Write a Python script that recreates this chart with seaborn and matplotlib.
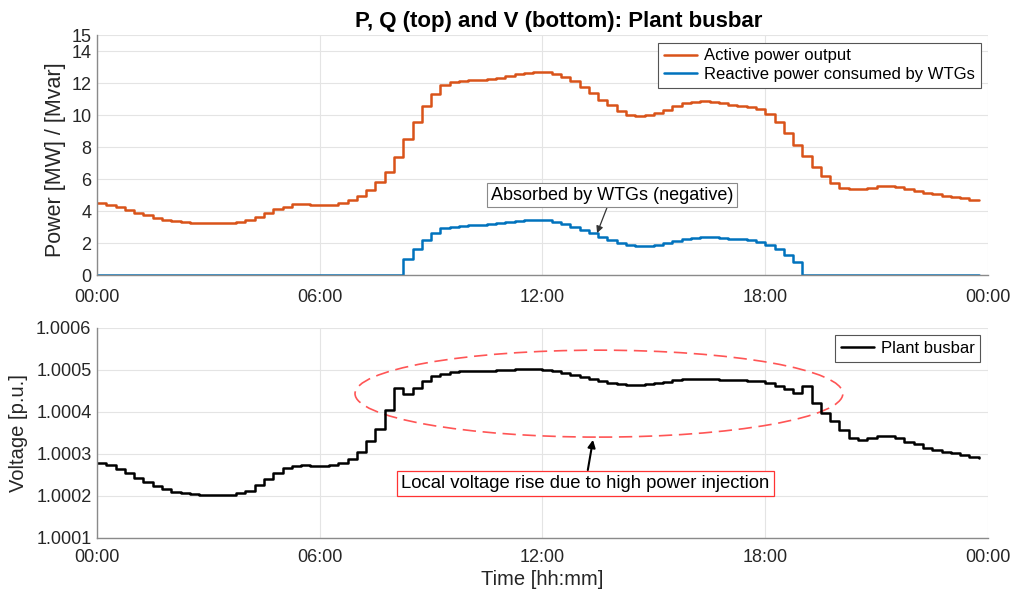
import numpy as np
import pandas as pd
import matplotlib
matplotlib.use("Agg")
import matplotlib.pyplot as plt
from matplotlib.patches import Ellipse
from matplotlib.ticker import FixedLocator, FixedFormatter, FuncFormatter
import seaborn as sns

# ---------------- data (15-min samples, 00:00 .. 23:45) ----------------
time_h = np.arange(96) * 0.25

active_power_MW = [
    4.52, 4.38, 4.23, 4.06, 3.90, 3.73, 3.58, 3.46,
    3.38, 3.32, 3.28, 3.26, 3.25, 3.25, 3.26, 3.30,
    3.44, 3.65, 3.90, 4.13, 4.27, 4.42, 4.44, 4.40,
    4.35, 4.40, 4.52, 4.67, 4.94, 5.29, 5.83, 6.46,
    7.40, 8.48, 9.58, 10.56, 11.31, 11.88, 12.08, 12.13,
    12.17, 12.21, 12.25, 12.33, 12.44, 12.54, 12.65, 12.71,
    12.69, 12.56, 12.40, 12.13, 11.77, 11.35, 10.94, 10.60,
    10.27, 10.02, 9.94, 9.98, 10.13, 10.33, 10.54, 10.73,
    10.83, 10.87, 10.83, 10.73, 10.65, 10.58, 10.50, 10.37,
    10.06, 9.58, 8.90, 8.15, 7.44, 6.77, 6.19, 5.73,
    5.46, 5.35, 5.37, 5.46, 5.56, 5.58, 5.48, 5.35,
    5.25, 5.15, 5.04, 4.96, 4.87, 4.79, 4.71, 4.69,
]

reactive_power_Mvar = [
    0, 0, 0, 0, 0, 0, 0, 0,
    0, 0, 0, 0, 0, 0, 0, 0,
    0, 0, 0, 0, 0, 0, 0, 0,
    0, 0, 0, 0, 0, 0, 0, 0,
    0, 0.98, 1.60, 2.19, 2.65, 2.92, 3.02, 3.06,
    3.10, 3.15, 3.21, 3.27, 3.33, 3.40, 3.44, 3.46,
    3.42, 3.31, 3.19, 3.02, 2.81, 2.60, 2.40, 2.19,
    2.00, 1.85, 1.79, 1.81, 1.90, 2.00, 2.12, 2.24,
    2.33, 2.37, 2.35, 2.29, 2.25, 2.23, 2.17, 2.08,
    1.90, 1.63, 1.25, 0.79, 0, 0, 0, 0,
    0, 0, 0, 0, 0, 0, 0, 0,
    0, 0, 0, 0, 0, 0, 0, 0,
]

voltage_pu = [
    1.000279, 1.000273, 1.000263, 1.000253, 1.000242, 1.000232, 1.000222, 1.000215,
    1.000210, 1.000206, 1.000204, 1.000202, 1.000202, 1.000201, 1.000201, 1.000206,
    1.000212, 1.000225, 1.000239, 1.000254, 1.000265, 1.000271, 1.000273, 1.000271,
    1.000271, 1.000273, 1.000277, 1.000287, 1.000305, 1.000331, 1.000360, 1.000404,
    1.000457, 1.000443, 1.000457, 1.000473, 1.000484, 1.000490, 1.000494, 1.000496,
    1.000497, 1.000498, 1.000498, 1.000499, 1.000500, 1.000501, 1.000501, 1.000501,
    1.000500, 1.000497, 1.000493, 1.000488, 1.000483, 1.000479, 1.000474, 1.000469,
    1.000465, 1.000463, 1.000463, 1.000466, 1.000469, 1.000471, 1.000475, 1.000478,
    1.000479, 1.000479, 1.000477, 1.000475, 1.000475, 1.000475, 1.000474, 1.000473,
    1.000469, 1.000461, 1.000454, 1.000445, 1.000461, 1.000420, 1.000397, 1.000377,
    1.000357, 1.000337, 1.000333, 1.000337, 1.000343, 1.000343, 1.000337, 1.000329,
    1.000322, 1.000314, 1.000309, 1.000305, 1.000301, 1.000297, 1.000293, 1.000290,
]

xtick_hours = [0, 6, 12, 18, 24]
xtick_labels = ["00:00", "06:00", "12:00", "18:00", "00:00"]
power_yticks = [0, 2, 4, 6, 8, 10, 12, 14, 15]
voltage_yticks = [1.0001, 1.0002, 1.0003, 1.0004, 1.0005, 1.0006]

df = pd.DataFrame({"t": time_h, "P": active_power_MW,
                   "Q": reactive_power_Mvar, "V": voltage_pu})

# ---------------- style ----------------
sns.set_theme(style="whitegrid")
plt.rcParams["font.family"] = ["Liberation Sans", "DejaVu Sans"]
TXT = "#262626"
ORANGE = "#D95319"
BLUE = "#0072BD"

fig = plt.figure(figsize=(10.12, 5.90), dpi=100)
ax1 = fig.add_axes([97 / 1012, 1 - 275 / 590, 891 / 1012, 240 / 590])
ax2 = fig.add_axes([97 / 1012, 1 - 537.7 / 590, 891 / 1012, 210 / 590])

sns.lineplot(data=df, x="t", y="P", ax=ax1, drawstyle="steps-post",
             color=ORANGE, linewidth=1.8, label="Active power output")
sns.lineplot(data=df, x="t", y="Q", ax=ax1, drawstyle="steps-post",
             color=BLUE, linewidth=1.8, label="Reactive power consumed by WTGs")
sns.lineplot(data=df, x="t", y="V", ax=ax2, drawstyle="steps-post",
             color="black", linewidth=1.8, label="Plant busbar")


def style_axes(ax):
    ax.set_facecolor("white")
    ax.set_xlim(0, 24)
    ax.xaxis.set_major_locator(FixedLocator(xtick_hours))
    ax.xaxis.set_major_formatter(FixedFormatter(xtick_labels))
    ax.grid(True, color="#e4e4e4", linewidth=0.8)
    for s in ["top", "right"]:
        ax.spines[s].set_visible(False)
    for s in ["left", "bottom"]:
        ax.spines[s].set_visible(True)
        ax.spines[s].set_color("#8a8a8a")
        ax.spines[s].set_linewidth(1.0)
    ax.tick_params(axis="both", direction="in", length=6, width=0.8,
                   color="#8a8a8a", labelsize=13, labelcolor=TXT)
    ax.tick_params(axis="x", pad=10)
    ax.tick_params(axis="y", pad=4)


style_axes(ax1)
style_axes(ax2)
ax2.tick_params(axis="x", pad=8)

ax1.set_ylim(0, 15)
ax1.yaxis.set_major_locator(FixedLocator(power_yticks))
ax1.yaxis.set_major_formatter(FuncFormatter(lambda v, p: f"{v:g}"))
ax1.set_xlabel("")
ax1.set_ylabel("Power [MW] / [Mvar]", fontsize=15.5, color=TXT)
ax1.yaxis.set_label_coords(-0.035, 0.48)

ax2.set_ylim(1.0001, 1.0006)
ax2.yaxis.set_major_locator(FixedLocator(voltage_yticks))
ax2.yaxis.set_major_formatter(FuncFormatter(lambda v, p: f"{v:.4f}"))
ax2.set_xlabel("Time [hh:mm]", fontsize=14.5, color=TXT)
ax2.xaxis.set_label_coords(0.5, -0.2)
ax2.xaxis.label.set_va("center")
ax2.set_ylabel("Voltage [p.u.]", fontsize=14.5, color=TXT)
ax2.yaxis.set_label_coords(-0.077, 0.5)

fig.text(559 / 1012, 1 - 22 / 590,
         "P, Q (top) and V (bottom): Plant busbar",
         ha="center", va="center", fontsize=16, fontweight="bold", color="black")

leg_kw = dict(loc="upper right", fontsize=12, frameon=True, fancybox=False,
              framealpha=1, edgecolor="#555555", borderaxespad=0.45,
              handlelength=2.0, handletextpad=0.4, labelspacing=0.2, borderpad=0.35)
l1 = ax1.legend(**leg_kw)
l1.get_frame().set_linewidth(0.8)
l2 = ax2.legend(**leg_kw)
l2.get_frame().set_linewidth(0.8)
for leg in (l1, l2):
    for txt in leg.get_texts():
        txt.set_color("black")

# annotation in the power axes
ax1.annotate("Absorbed by WTGs (negative)", xy=(13.47, 2.62), xytext=(13.87, 5.0),
             fontsize=13, ha="center", va="center", color="black",
             bbox=dict(boxstyle="square,pad=0.2", fc="white", ec="#8a8a8a", lw=0.8),
             arrowprops=dict(arrowstyle="-|>", color="#333333", lw=0.9,
                             mutation_scale=10, shrinkA=0, shrinkB=0))

# ellipse + annotation in the voltage axes
ell = Ellipse((13.52, 1.000443), width=13.14, height=0.000207, fill=False,
              edgecolor="#ff5555", linewidth=1.2, linestyle=(0, (8, 4)))
ax2.add_patch(ell)
ax2.annotate("Local voltage rise due to high power injection",
             xy=(13.36, 1.000333), xytext=(13.16, 1.000230),
             fontsize=13.3, ha="center", va="center", color="black",
             bbox=dict(boxstyle="square,pad=0.22", fc="white", ec="#ff3333", lw=0.9),
             arrowprops=dict(arrowstyle="-|>", color="black", lw=1.5,
                             mutation_scale=11, shrinkA=0, shrinkB=0))

fig.savefig("out.png", dpi=100, facecolor="white")
